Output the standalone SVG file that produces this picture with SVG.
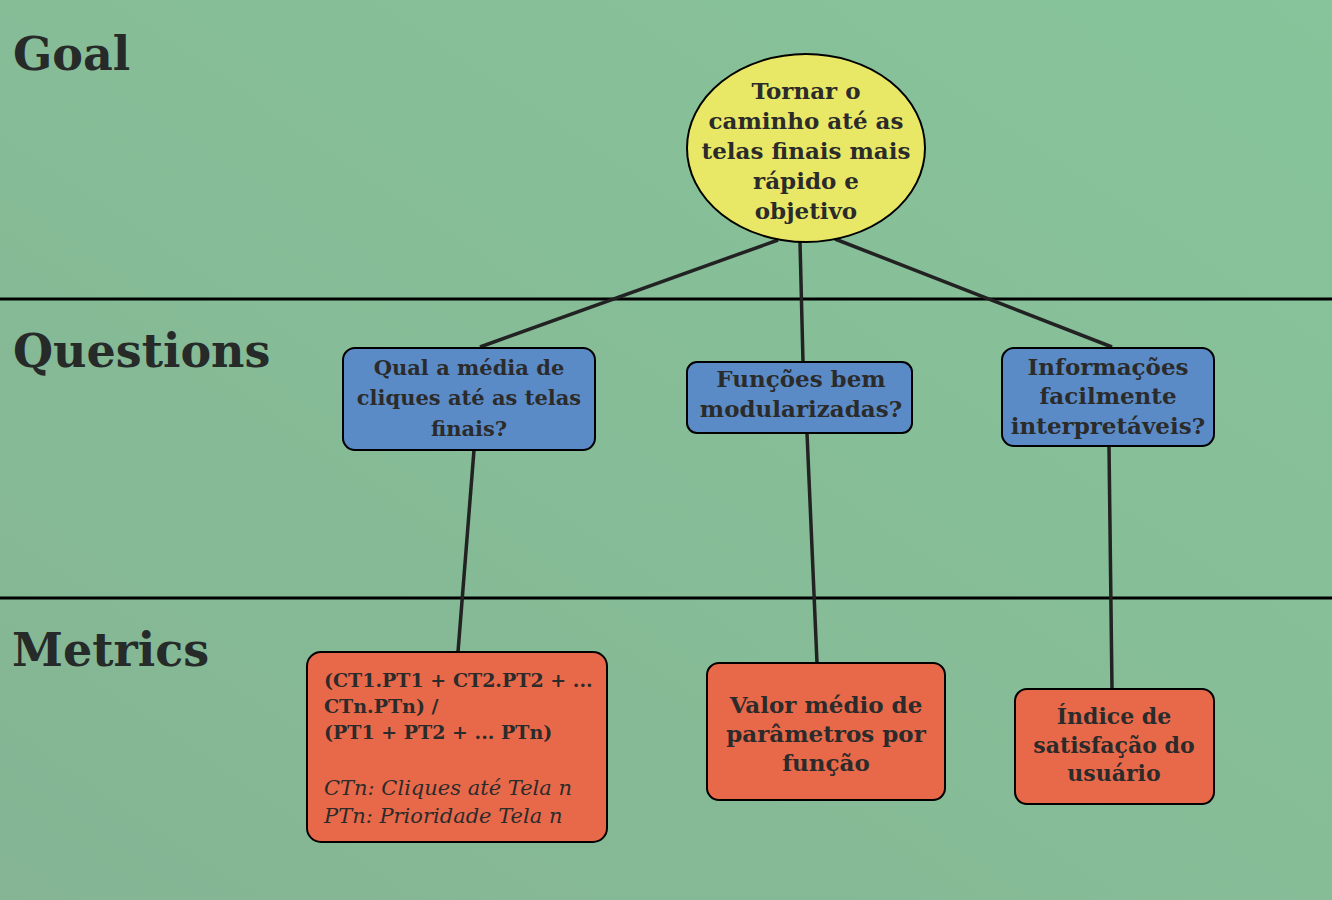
<svg xmlns="http://www.w3.org/2000/svg" width="1332" height="900" viewBox="0 0 1332 900">
<defs>
<linearGradient id="bg" x1="1" y1="0" x2="0" y2="1">
<stop offset="0" stop-color="#87C49A"/>
<stop offset="1" stop-color="#85B594"/>
</linearGradient>
<style>
.h{font-family:"DejaVu Serif","Liberation Serif",serif;font-weight:bold;font-size:46px;fill:#262a28}
.t{font-family:"DejaVu Serif","Liberation Serif",serif;font-weight:bold;font-size:23px;fill:#2b2b2b;text-anchor:middle}
.s{font-size:21px}
.s2{font-size:22px}
.m{font-family:"DejaVu Serif","Liberation Serif",serif;font-weight:bold;font-size:19px;fill:#2b2b2b}
.i{font-family:"DejaVu Serif","Liberation Serif",serif;font-style:italic;font-size:21px;fill:#2b2b2b}
.q{fill:#5B8BC7;stroke:#000;stroke-width:2}
.r{fill:#E8694A;stroke:#000;stroke-width:2}
.c{stroke:#222;stroke-width:3.5;fill:none}
.sep{stroke:#000;stroke-width:3}
</style>
</defs>
<rect width="1332" height="900" fill="url(#bg)"/>
<g id="sections">
<line class="sep" x1="0" y1="299" x2="1332" y2="299"/>
<line class="sep" x1="0" y1="598" x2="1332" y2="598"/>
<text class="h" x="13" y="70">Goal</text>
<text class="h" x="13" y="367">Questions</text>
<text class="h" x="12" y="666">Metrics</text>
</g>
<g id="connectors">
<line class="c" x1="778" y1="240" x2="480" y2="347"/>
<line class="c" x1="800" y1="242" x2="803" y2="362"/>
<line class="c" x1="835" y1="239" x2="1112" y2="347"/>
<line class="c" x1="474" y1="450" x2="458" y2="652"/>
<line class="c" x1="807" y1="433" x2="817" y2="663"/>
<line class="c" x1="1109" y1="446" x2="1112" y2="689"/>
</g>
<g id="goal">
<ellipse cx="806" cy="148" rx="119" ry="94" fill="#E9E866" stroke="#000" stroke-width="2"/>
<text class="t" x="806" y="99">Tornar o</text>
<text class="t" x="806" y="129">caminho até as</text>
<text class="t" x="806" y="159">telas finais mais</text>
<text class="t" x="806" y="189">rápido e</text>
<text class="t" x="806" y="219">objetivo</text>
</g>
<g id="q1">
<rect class="q" x="343" y="348" width="252" height="102" rx="12"/>
<text class="t s" x="469" y="375">Qual a média de</text>
<text class="t s" x="469" y="405">cliques até as telas</text>
<text class="t s" x="469" y="436">finais?</text>
</g>
<g id="q2">
<rect class="q" x="687" y="362" width="225" height="71" rx="10"/>
<text class="t" x="801" y="387">Funções bem</text>
<text class="t" x="801" y="417">modularizadas?</text>
</g>
<g id="q3">
<rect class="q" x="1002" y="348" width="212" height="98" rx="12"/>
<text class="t" x="1108" y="375">Informações</text>
<text class="t" x="1108" y="404">facilmente</text>
<text class="t" x="1108" y="434">interpretáveis?</text>
</g>
<g id="m1">
<rect class="r" x="307" y="652" width="300" height="190" rx="14"/>
<text class="m" x="324" y="687">(CT1.PT1 + CT2.PT2 + ...</text>
<text class="m" x="324" y="713">CTn.PTn) /</text>
<text class="m" x="324" y="739">(PT1 + PT2 + ... PTn)</text>
<text class="i" x="324" y="795">CTn: Cliques até Tela n</text>
<text class="i" x="324" y="823">PTn: Prioridade Tela n</text>
</g>
<g id="m2">
<rect class="r" x="707" y="663" width="238" height="137" rx="12"/>
<text class="t" x="826" y="713">Valor médio de</text>
<text class="t" x="826" y="742">parâmetros por</text>
<text class="t" x="826" y="771">função</text>
</g>
<g id="m3">
<rect class="r" x="1015" y="689" width="199" height="115" rx="12"/>
<text class="t s2" x="1114" y="724">Índice de</text>
<text class="t s2" x="1114" y="753">satisfação do</text>
<text class="t s2" x="1114" y="781">usuário</text>
</g>
</svg>
